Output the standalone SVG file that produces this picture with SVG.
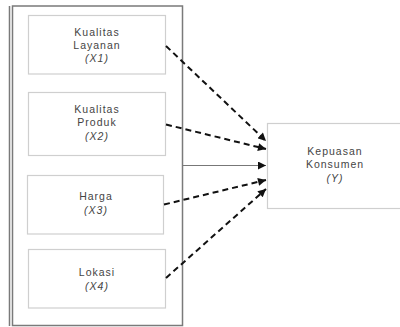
<svg xmlns="http://www.w3.org/2000/svg" width="400" height="327" viewBox="0 0 400 327">
<style>
.frame{fill:none;stroke:#7a7a7a;stroke-width:1.5}
.box{fill:#fff;stroke:#cfcfcf;stroke-width:1.2}
.lbl{font-family:"Liberation Sans",Arial,sans-serif;font-size:10.5px;fill:#444;text-anchor:middle;letter-spacing:1px}
.it{font-style:italic}
.dash{fill:none;stroke:#111;stroke-width:2;stroke-dasharray:6 4}
.solid{fill:none;stroke:#777;stroke-width:1.2}
</style>
<defs>
<marker id="ah" viewBox="0 0 10 10" refX="10" refY="5" markerWidth="9" markerHeight="8" markerUnits="userSpaceOnUse" orient="auto">
<path d="M0,0 L10,5 L0,10 z" fill="#111"/>
</marker>
</defs>
<rect x="0" y="0" width="400" height="327" fill="#fff"/>
<g id="frame">
<line class="frame" x1="9.5" y1="6" x2="9.5" y2="326"/>
<rect class="frame" x="12.5" y="6" width="170" height="319.5"/>
</g>
<g id="x1">
<rect class="box" x="28.5" y="15.5" width="137" height="58.5"/>
<text class="lbl" x="97" y="36">Kualitas</text>
<text class="lbl" x="97" y="49">Layanan</text>
<text class="lbl it" x="97" y="62">(X1)</text>
</g>
<g id="x2">
<rect class="box" x="28.5" y="92.5" width="137" height="63"/>
<text class="lbl" x="97" y="113">Kualitas</text>
<text class="lbl" x="97" y="126">Produk</text>
<text class="lbl it" x="97" y="140">(X2)</text>
</g>
<g id="x3">
<rect class="box" x="27.5" y="175.5" width="136" height="58.5"/>
<text class="lbl" x="96" y="200">Harga</text>
<text class="lbl it" x="96" y="213.5">(X3)</text>
</g>
<g id="x4">
<rect class="box" x="28.5" y="249.5" width="137" height="58.5"/>
<text class="lbl" x="97" y="275.5">Lokasi</text>
<text class="lbl it" x="97" y="289.5">(X4)</text>
</g>
<g id="y">
<rect class="box" x="267.5" y="123.5" width="140" height="85"/>
<text class="lbl" x="335" y="155">Kepuasan</text>
<text class="lbl" x="335" y="168">Konsumen</text>
<text class="lbl it" x="335" y="182">(Y)</text>
</g>
<g id="connectors">
<line class="dash" x1="166" y1="46" x2="266" y2="141" marker-end="url(#ah)"/>
<line class="dash" x1="166" y1="124.5" x2="266" y2="149" marker-end="url(#ah)"/>
<line class="solid" x1="183" y1="165.5" x2="266" y2="165.5" marker-end="url(#ah)"/>
<line class="dash" x1="164" y1="204.5" x2="266" y2="180" marker-end="url(#ah)"/>
<line class="dash" x1="166" y1="278" x2="266" y2="189" marker-end="url(#ah)"/>
</g>
</svg>
